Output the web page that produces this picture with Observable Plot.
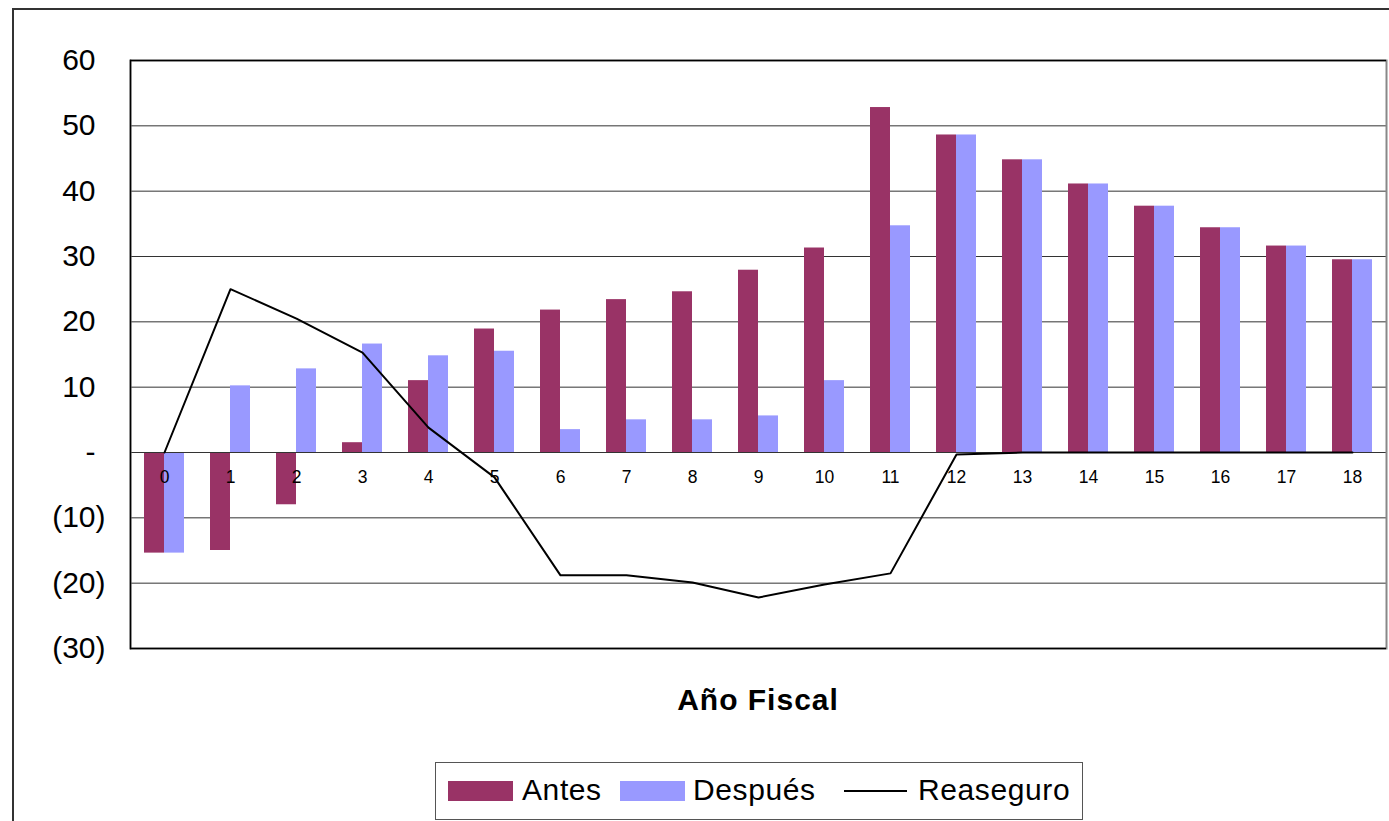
<!DOCTYPE html>
<html>
<head>
<meta charset="utf-8">
<script src="https://cdn.jsdelivr.net/npm/d3@7"></script>
<script src="https://cdn.jsdelivr.net/npm/@observablehq/plot@0.6"></script>
<style>
  html, body { margin: 0; padding: 0; background: #fff; overflow: hidden; }
  body { width: 1389px; height: 821px; position: relative; font-family: "Liberation Sans", Arial, sans-serif; }
  #outer { position: absolute; left: 12px; top: 8px; width: 1400px; height: 840px; border: 2px solid #333; box-sizing: border-box; }
  #chart { position: absolute; left: 0; top: 0; }
  #xtitle { position: absolute; left: 130px; width: 1256px; top: 683px; line-height: 34px; text-align: center; font-size: 30px; letter-spacing: 1px; font-weight: bold; color: #000; }
  #legend { position: absolute; left: 435px; top: 762px; width: 648px; height: 58px; border: 1px solid #555; box-sizing: border-box; background: #fff; }
  .sw { position: absolute; top: 18px; width: 65px; height: 20px; }
  .lt { position: absolute; top: 10px; font-size: 30px; letter-spacing: 0.6px; line-height: 34px; color: #000; }
  .ln { position: absolute; top: 27px; width: 63px; height: 0; border-top: 2px solid #000; }
</style>
</head>
<body>
<div id="outer"></div>
<div id="chart"></div>
<div id="xtitle">Año Fiscal</div>
<div id="legend">
  <div class="sw" style="left:12px;background:#993366"></div><div class="lt" style="left:86px">Antes</div>
  <div class="sw" style="left:184px;background:#9999FF"></div><div class="lt" style="left:257px">Después</div>
  <div class="ln" style="left:408px"></div><div class="lt" style="left:482px">Reaseguro</div>
</div>
<script>
const years = [0,1,2,3,4,5,6,7,8,9,10,11,12,13,14,15,16,17,18];
const antes = [-15.4,-15.0,-8.0,1.5,11.0,18.9,21.8,23.4,24.6,27.9,31.3,52.8,48.6,44.8,41.1,37.7,34.4,31.6,29.5];
const despues = [-15.4,10.2,12.8,16.6,14.8,15.5,3.5,5.0,5.0,5.6,11.0,34.7,48.6,44.8,41.1,37.7,34.4,31.6,29.5];
const reaseguro = [0,25.0,20.5,15.3,3.8,-3.8,-18.8,-18.8,-19.9,-22.2,-20.2,-18.5,-0.3,0,0,0,0,0,0];
const yTicks = [60,50,40,30,20,10,0,-10,-20,-30];

const data = years.map((y, i) => ({year: y, antes: antes[i], despues: despues[i], reaseguro: reaseguro[i]}));
const fmt = v => v === 0 ? "-" : v < 0 ? `(${-v})` : String(v);

const chart = Plot.plot({
  width: 1389,
  height: 660,
  marginTop: 60,
  marginBottom: 12,
  marginLeft: 130,
  marginRight: 3,
  style: {fontFamily: "'Liberation Sans', Arial, sans-serif", background: "transparent", overflow: "visible"},
  x: {type: "band", domain: years, paddingInner: 0.395, paddingOuter: 0.1975, axis: null},
  y: {domain: [-30, 60], axis: null},
  marks: [
    Plot.ruleY(yTicks.filter(v => v !== 60 && v !== -30), {stroke: "#333", strokeWidth: 1}),
    Plot.barY(data, {x: "year", y: "antes", fill: "#993366", insetRight: 20}),
    Plot.barY(data, {x: "year", y: "despues", fill: "#9999FF", insetLeft: 20}),
    Plot.ruleY([0], {stroke: "#333", strokeWidth: 1}),
    Plot.lineY(data, {x: "year", y: "reaseguro", stroke: "#000", strokeWidth: 2}),
    Plot.text(data, {x: "year", y: () => 0, text: d => String(d.year), dy: 25, fontSize: 17.5, fill: "#000"}),
    Plot.text(yTicks.filter(v => v >= 0), {y: d => d, text: fmt, frameAnchor: "left", textAnchor: "end", dx: -35, fontSize: 30, fill: "#000"}),
    Plot.text(yTicks.filter(v => v < 0), {y: d => d, text: fmt, frameAnchor: "left", textAnchor: "end", dx: -25, fontSize: 30, fill: "#000"}),
    Plot.frame({stroke: "#888", strokeWidth: 2}),
    Plot.ruleY([60, -30], {stroke: "#000", strokeWidth: 1.5}),
    Plot.frame({anchor: "left", stroke: "#000", strokeWidth: 1.5})
  ]
});
document.getElementById("chart").appendChild(chart);
</script>
</body>
</html>
